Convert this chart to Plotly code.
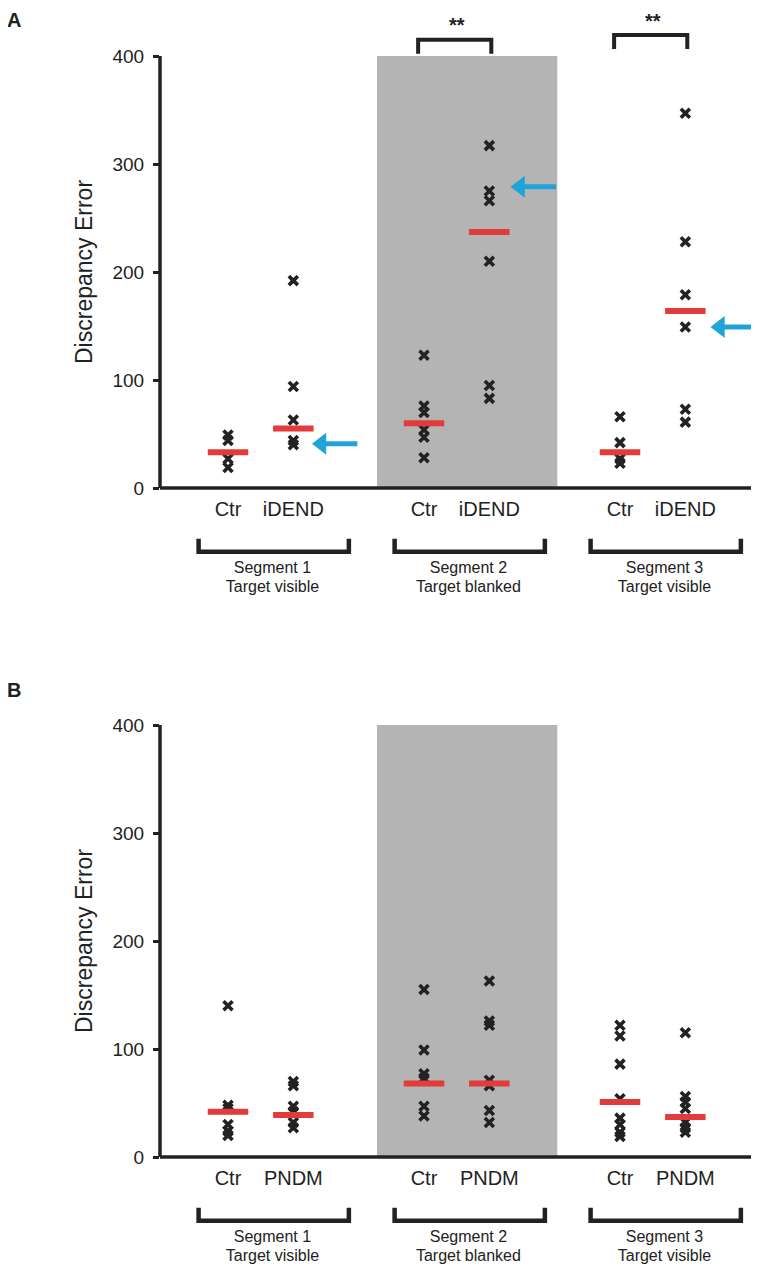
import plotly.graph_objects as go

# ---------------- data ----------------
segments = ["Segment 1", "Segment 2", "Segment 3"]
segment_notes = ["Target visible", "Target blanked", "Target visible"]
ctr_pos = [0, 3, 6]          # Ctr column in each segment, patient column at +1
y_ticks = [0, 100, 200, 300, 400]

# Panel A (Ctr vs iDEND)
a_groups = ["Ctr", "iDEND"]
a_ctr = [[49, 44, 27, 19], [123, 76, 70, 54, 47, 28], [66, 42, 27, 23]]
a_pat = [[192, 94, 63, 44, 40], [317, 275, 266, 210, 95, 83], [347, 228, 179, 149, 73, 61]]
a_ctr_med = [33, 60, 33]
a_pat_med = [55, 237, 164]
a_arrow_y = [41, 279, 149]
a_arrow_tip = [1.26, 4.30, 7.36]
a_sig_seg = [1, 2]
a_sig_label = ["**", "**"]
a_sig_bracket_top = [415, 419.5]
a_sig_text_y = [427, 431]

# Panel B (Ctr vs PNDM)
b_groups = ["Ctr", "PNDM"]
b_ctr = [[140, 48, 45, 30, 24, 20], [155, 99, 77, 73, 47, 38], [122, 112, 86, 54, 36, 30, 23, 19]]
b_pat = [[70, 66, 47, 42, 32, 27], [163, 126, 122, 71, 66, 43, 32], [115, 56, 51, 45, 32, 27, 23]]
b_ctr_med = [42, 68, 51]
b_pat_med = [39, 68, 37]

# ---------------- style ----------------
DARK = "#222222"
RED = "#e23b3b"
BLUE = "#1fa3d8"
GRAY = "#b4b4b4"
FONT = "Liberation Sans, Arial, Helvetica, sans-serif"

OFF = 8                      # page body margin
W, H = 759 - OFF, 1273 - OFF
X_LEFT_PX, X_RIGHT_PX = 160, 757
X_RANGE = [-1.041, 8.097]
Y_RANGE = [-105, 440]
panel_zero_px = [488, 1157]
PX_PER_UNIT = 1.08


def px_x(p):
    return (p - OFF) / W


def px_y(p):
    return 1 - (p - OFF) / H


fig = go.Figure()


def add_panel(idx, groups, ctr, pat, ctr_med, pat_med, arrows=None, sig=None):
    xa = "x" if idx == 0 else "x2"
    ya = "y" if idx == 0 else "y2"

    # blanked-target shading (segment 2)
    fig.add_shape(type="rect", xref=xa, yref=ya, x0=2.28, x1=5.04, y0=0, y1=400,
                  fillcolor=GRAY, line_width=0, layer="below")
    # axis lines
    fig.add_shape(type="line", xref=xa + " domain", yref=ya, x0=0, x1=0, y0=0, y1=400,
                  line=dict(color=DARK, width=3.5))
    fig.add_shape(type="line", xref=xa, yref=ya, x0=X_RANGE[0], x1=8.04, y0=0, y1=0,
                  line=dict(color=DARK, width=3.5))

    for s in range(3):
        c = ctr_pos[s]
        for col, vals in ((c, ctr[s]), (c + 1, pat[s])):
            fig.add_trace(go.Scatter(
                x=[col] * len(vals), y=vals, mode="markers", xaxis=xa, yaxis=ya,
                marker=dict(symbol="x-thin-open", size=9, color=DARK,
                            line=dict(color=DARK, width=3.6)),
                showlegend=False, hoverinfo="y"))
        for col, m in ((c, ctr_med[s]), (c + 1, pat_med[s])):
            fig.add_trace(go.Scatter(
                x=[col - 0.31, col + 0.31], y=[m, m], mode="lines", xaxis=xa, yaxis=ya,
                line=dict(color=RED, width=6), showlegend=False, hoverinfo="skip"))
        # category labels
        fig.add_trace(go.Scatter(
            x=[c, c + 1], y=[-21.5, -21.5], mode="text", text=groups, xaxis=xa, yaxis=ya,
            textfont=dict(family=FONT, size=20, color=DARK), showlegend=False,
            hoverinfo="skip", cliponaxis=False))
        # segment bracket
        fig.add_trace(go.Scatter(
            x=[c - 0.45, c - 0.45, c + 1.85, c + 1.85], y=[-47, -59, -59, -47],
            mode="lines", xaxis=xa, yaxis=ya, line=dict(color=DARK, width=4.5),
            showlegend=False, hoverinfo="skip"))
        fig.add_trace(go.Scatter(
            x=[c + 0.68, c + 0.68], y=[-75, -92.5], mode="text",
            text=[segments[s], segment_notes[s]], xaxis=xa, yaxis=ya,
            textfont=dict(family=FONT, size=16, color=DARK), showlegend=False,
            hoverinfo="skip", cliponaxis=False))

    if arrows is not None:
        tips, ys = arrows
        for t, yv in zip(tips, ys):
            fig.add_trace(go.Scatter(
                x=[t + 0.16, t + 0.72], y=[yv, yv], mode="lines", xaxis=xa, yaxis=ya,
                line=dict(color=BLUE, width=5), showlegend=False, hoverinfo="skip"))
            fig.add_trace(go.Scatter(
                x=[t + 0.17], y=[yv], mode="markers", xaxis=xa, yaxis=ya,
                marker=dict(symbol="triangle-left", size=19, color=BLUE, line_width=0),
                showlegend=False, hoverinfo="skip", cliponaxis=False))

    if sig is not None:
        segs, labels, tops, tys = sig
        for s, lab, top, ty in zip(segs, labels, tops, tys):
            c = ctr_pos[s]
            fig.add_trace(go.Scatter(
                x=[c - 0.09, c - 0.09, c + 1.03, c + 1.03], y=[top - 13, top, top, top - 13],
                mode="lines", xaxis=xa, yaxis=ya, line=dict(color=DARK, width=4),
                showlegend=False, hoverinfo="skip"))
            fig.add_trace(go.Scatter(
                x=[c + 0.5], y=[ty], mode="text", text=["<b>%s</b>" % lab], xaxis=xa, yaxis=ya,
                textfont=dict(family=FONT, size=20, color=DARK), showlegend=False,
                hoverinfo="skip", cliponaxis=False))

    # y axis title
    fig.add_annotation(text="Discrepancy Error", xref="paper", yref=ya, x=px_x(84), y=200,
                       xanchor="center", yanchor="middle", textangle=-90, showarrow=False,
                       font=dict(family=FONT, size=23, color=DARK))


add_panel(0, a_groups, a_ctr, a_pat, a_ctr_med, a_pat_med,
          arrows=(a_arrow_tip, a_arrow_y),
          sig=(a_sig_seg, a_sig_label, a_sig_bracket_top, a_sig_text_y))
add_panel(1, b_groups, b_ctr, b_pat, b_ctr_med, b_pat_med)


def ydomain(zero_px):
    bottom_px = zero_px - Y_RANGE[0] * PX_PER_UNIT
    top_px = zero_px - Y_RANGE[1] * PX_PER_UNIT
    return [px_y(bottom_px), px_y(top_px)]


xdom = [px_x(X_LEFT_PX), px_x(X_RIGHT_PX)]
axis_x = dict(range=X_RANGE, domain=xdom, visible=False, fixedrange=True)
axis_y = dict(range=Y_RANGE, tickvals=y_ticks, ticks="outside", ticklen=6, tickwidth=3,
              tickcolor=DARK, showgrid=False, zeroline=False, showline=False,
              tickfont=dict(family=FONT, size=19, color=DARK), ticklabelstandoff=5)

fig.update_layout(
    width=W, height=H, margin=dict(l=0, r=0, t=0, b=0),
    paper_bgcolor="white", plot_bgcolor="white",
    xaxis=dict(axis_x, anchor="y"),
    yaxis=dict(axis_y, domain=ydomain(panel_zero_px[0]), anchor="x"),
    xaxis2=dict(axis_x, anchor="y2"),
    yaxis2=dict(axis_y, domain=ydomain(panel_zero_px[1]), anchor="x2"),
    showlegend=False,
)

fig.add_annotation(text="<b>A</b>", xref="paper", yref="paper", x=px_x(14), y=1,
                   xanchor="center", yanchor="top", borderpad=0, showarrow=False,
                   font=dict(family=FONT, size=20, color=DARK))
fig.add_annotation(text="<b>B</b>", xref="paper", yref="paper", x=px_x(14), y=px_y(690),
                   xanchor="center", yanchor="middle", showarrow=False,
                   font=dict(family=FONT, size=20, color=DARK))

fig.write_html("out.html")
